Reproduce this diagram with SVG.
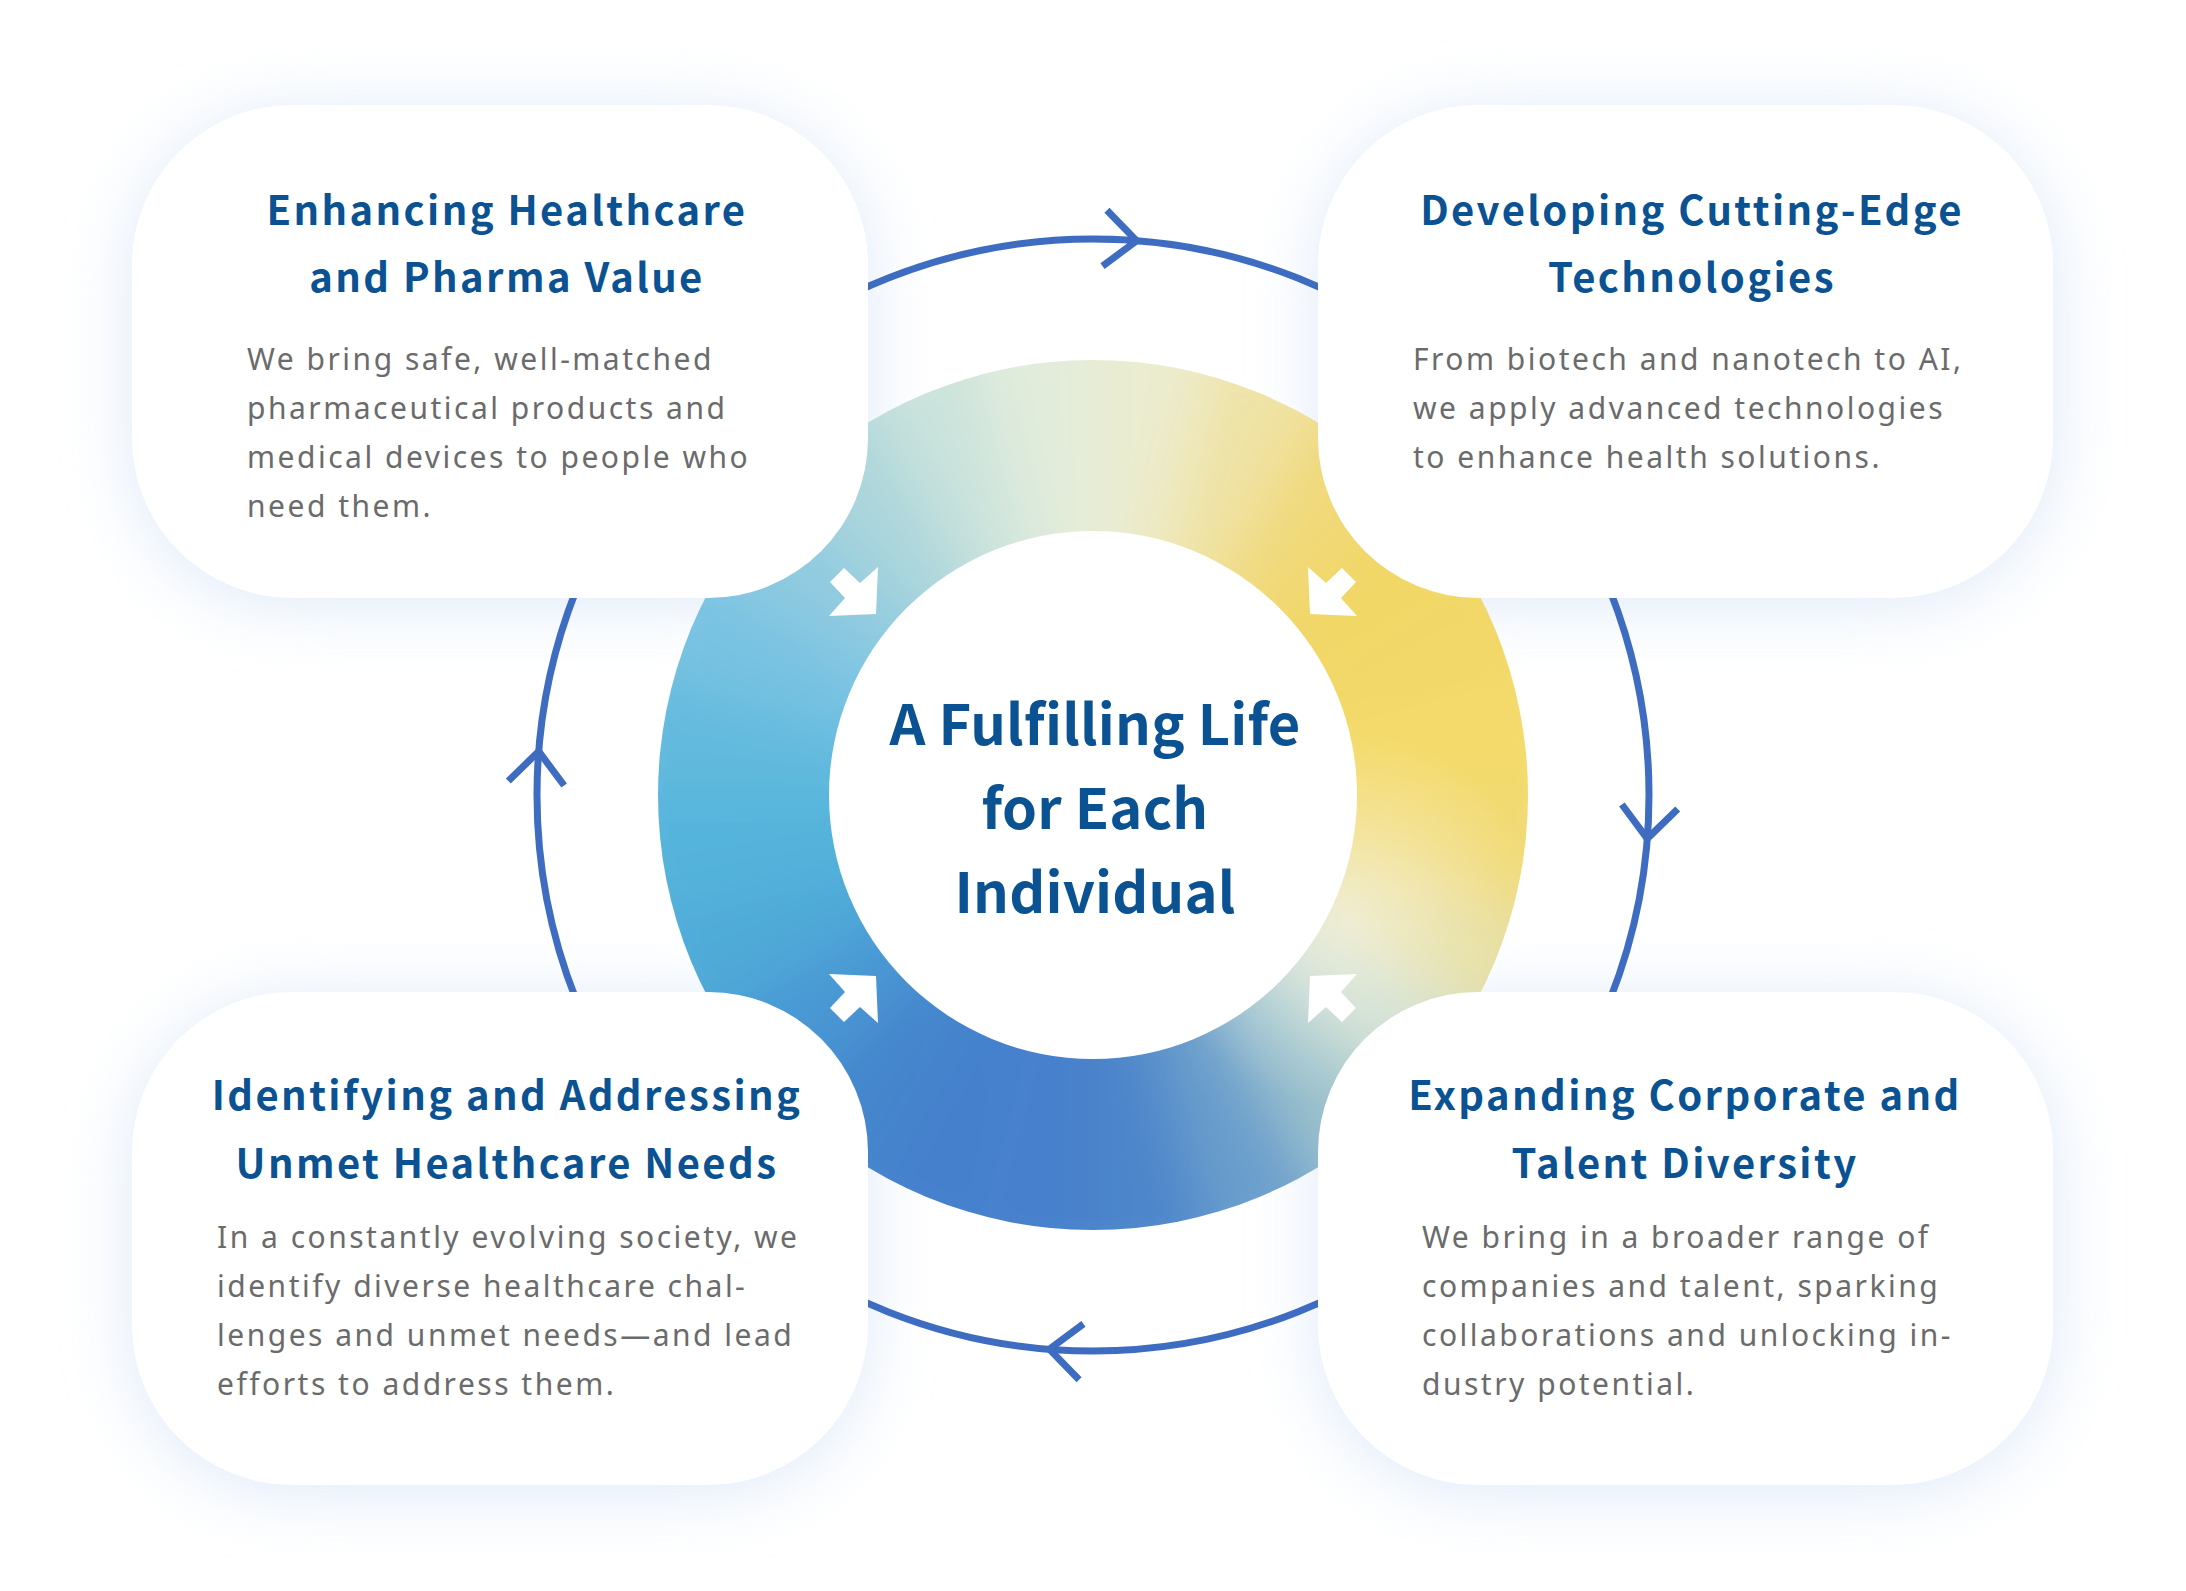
<svg xmlns="http://www.w3.org/2000/svg" width="2186" height="1591" viewBox="0 0 2186 1591">
<defs>
<style>
.title{font-family:"Noto Sans CJK JP","Noto Sans",sans-serif;font-weight:700;font-size:40px;fill:#0a5291;text-anchor:middle;letter-spacing:2.4px}
.body{font-family:"Noto Sans","Noto Sans CJK JP",sans-serif;font-weight:400;font-size:30px;fill:#6b6b6b;letter-spacing:2.5px}
.center{font-family:"Noto Sans CJK JP","Noto Sans",sans-serif;font-weight:700;font-size:56px;fill:#0a5291;text-anchor:middle;letter-spacing:0.2px}
.card{fill:#ffffff}
.glow{fill:#d3e3f7}
.loop{fill:none;stroke:#3d6cc0;stroke-width:7}
.warrow{fill:#ffffff}
</style>
<filter id="blurGlow" x="-30%" y="-40%" width="160%" height="180%">
<feGaussianBlur stdDeviation="34"/>
</filter>
<filter id="blurRing" x="-20%" y="-20%" width="140%" height="140%">
<feGaussianBlur stdDeviation="30"/>
</filter>
<clipPath id="ringClip">
<circle cx="1093" cy="795" r="435"/>
</clipPath>
<radialGradient id="paleBlob" cx="0.5" cy="0.5" r="0.5">
<stop offset="0" stop-color="#ffffff" stop-opacity="0.5"/>
<stop offset="1" stop-color="#ffffff" stop-opacity="0"/>
</radialGradient>
<path id="chev" d="M -32 -28 L 0 0 L -32 28" class="loop"/>
<polygon id="wa" points="-32,-46 -16,-31 2,-47 0,0 -47,2 -31,-16 -46,-32" class="warrow"/>
</defs>
<rect x="0" y="0" width="2186" height="1591" fill="#ffffff"/>

<g id="glows" filter="url(#blurGlow)" opacity="0.75">
<rect class="glow" x="132" y="112" width="736" height="493" rx="160"/>
<rect class="glow" x="1318" y="112" width="735" height="493" rx="160"/>
<rect class="glow" x="132" y="999" width="736" height="493" rx="160"/>
<rect class="glow" x="1318" y="999" width="735" height="493" rx="160"/>
</g>

<g id="connectors">
<circle class="loop" cx="1093" cy="795" r="556"/>
<use href="#chev" transform="rotate(4.5 1093 795) translate(1093 239)"/>
<use href="#chev" transform="rotate(94.5 1093 795) translate(1093 239)"/>
<use href="#chev" transform="rotate(184.5 1093 795) translate(1093 239)"/>
<use href="#chev" transform="rotate(274.5 1093 795) translate(1093 239)"/>
</g>

<g id="center-node">
<g clip-path="url(#ringClip)">
<g filter="url(#blurRing)">
<polygon points="1093,795 1093,295 1222.4,312" fill="#ebecd0"/>
<polygon points="1093,795 1222.4,312 1343,362" fill="#efe3a6"/>
<polygon points="1093,795 1343,362 1446.6,441.4" fill="#f1d97a"/>
<polygon points="1093,795 1446.6,441.4 1526,545" fill="#f1d766"/>
<polygon points="1093,795 1526,545 1576,665.6" fill="#f2d868"/>
<polygon points="1093,795 1576,665.6 1593,795" fill="#f4da6a"/>
<polygon points="1093,795 1593,795 1576,924.4" fill="#f1da76"/>
<polygon points="1093,795 1576,924.4 1526,1045" fill="#e4dc9a"/>
<polygon points="1093,795 1526,1045 1446.6,1148.6" fill="#cadcca"/>
<polygon points="1093,795 1446.6,1148.6 1343,1228" fill="#9cc2cc"/>
<polygon points="1093,795 1343,1228 1222.4,1278" fill="#6a9fcc"/>
<polygon points="1093,795 1222.4,1278 1093,1295" fill="#4d86cb"/>
<polygon points="1093,795 1093,1295 963.6,1278" fill="#4680cc"/>
<polygon points="1093,795 963.6,1278 843,1228" fill="#4580cc"/>
<polygon points="1093,795 843,1228 739.4,1148.6" fill="#4586cc"/>
<polygon points="1093,795 739.4,1148.6 660,1045" fill="#4a98d4"/>
<polygon points="1093,795 660,1045 610,924.4" fill="#50aad8"/>
<polygon points="1093,795 610,924.4 593,795" fill="#55b4db"/>
<polygon points="1093,795 593,795 610,665.6" fill="#62bade"/>
<polygon points="1093,795 610,665.6 660,545" fill="#78c2e2"/>
<polygon points="1093,795 660,545 739.4,441.4" fill="#90cbe0"/>
<polygon points="1093,795 739.4,441.4 843,362" fill="#acd6dc"/>
<polygon points="1093,795 843,362 963.6,312" fill="#cae3dc"/>
<polygon points="1093,795 963.6,312 1093,295" fill="#e2ecdb"/>
</g>
<circle cx="1350" cy="920" r="190" fill="url(#paleBlob)"/>
</g>
<circle cx="1093" cy="795" r="264" fill="#ffffff"/>
<use href="#wa" transform="translate(876 614)"/>
<use href="#wa" transform="translate(1310 614) scale(-1 1)"/>
<use href="#wa" transform="translate(876 976) scale(1 -1)"/>
<use href="#wa" transform="translate(1310 976) scale(-1 -1)"/>
<text class="center" x="1095" y="745">A Fulfilling Life</text>
<text class="center" x="1095" y="829">for Each</text>
<text class="center" x="1095" y="913">Individual</text>
</g>

<g id="node-healthcare">
<rect class="card" x="132" y="105" width="736" height="493" rx="160"/>
<text class="title" x="507" y="225">Enhancing Healthcare</text>
<text class="title" x="507" y="292">and Pharma Value</text>
<text class="body" x="247" y="370">We bring safe, well-matched</text>
<text class="body" x="247" y="419">pharmaceutical products and</text>
<text class="body" x="247" y="468">medical devices to people who</text>
<text class="body" x="247" y="517">need them.</text>
</g>

<g id="node-technologies">
<rect class="card" x="1318" y="105" width="735" height="493" rx="160"/>
<text class="title" x="1692" y="225">Developing Cutting-Edge</text>
<text class="title" x="1692" y="292">Technologies</text>
<text class="body" x="1413" y="370">From biotech and nanotech to AI,</text>
<text class="body" x="1413" y="419">we apply advanced technologies</text>
<text class="body" x="1413" y="468">to enhance health solutions.</text>
</g>

<g id="node-unmet-needs">
<rect class="card" x="132" y="992" width="736" height="493" rx="160"/>
<text class="title" x="507" y="1110">Identifying and Addressing</text>
<text class="title" x="507" y="1178">Unmet Healthcare Needs</text>
<text class="body" x="217" y="1248">In a constantly evolving society, we</text>
<text class="body" x="217" y="1297">identify diverse healthcare chal-</text>
<text class="body" x="217" y="1346">lenges and unmet needs—and lead</text>
<text class="body" x="217" y="1395">efforts to address them.</text>
</g>

<g id="node-diversity">
<rect class="card" x="1318" y="992" width="735" height="493" rx="160"/>
<text class="title" x="1685" y="1110">Expanding Corporate and</text>
<text class="title" x="1685" y="1178">Talent Diversity</text>
<text class="body" x="1422" y="1248">We bring in a broader range of</text>
<text class="body" x="1422" y="1297">companies and talent, sparking</text>
<text class="body" x="1422" y="1346">collaborations and unlocking in-</text>
<text class="body" x="1422" y="1395">dustry potential.</text>
</g>
</svg>
